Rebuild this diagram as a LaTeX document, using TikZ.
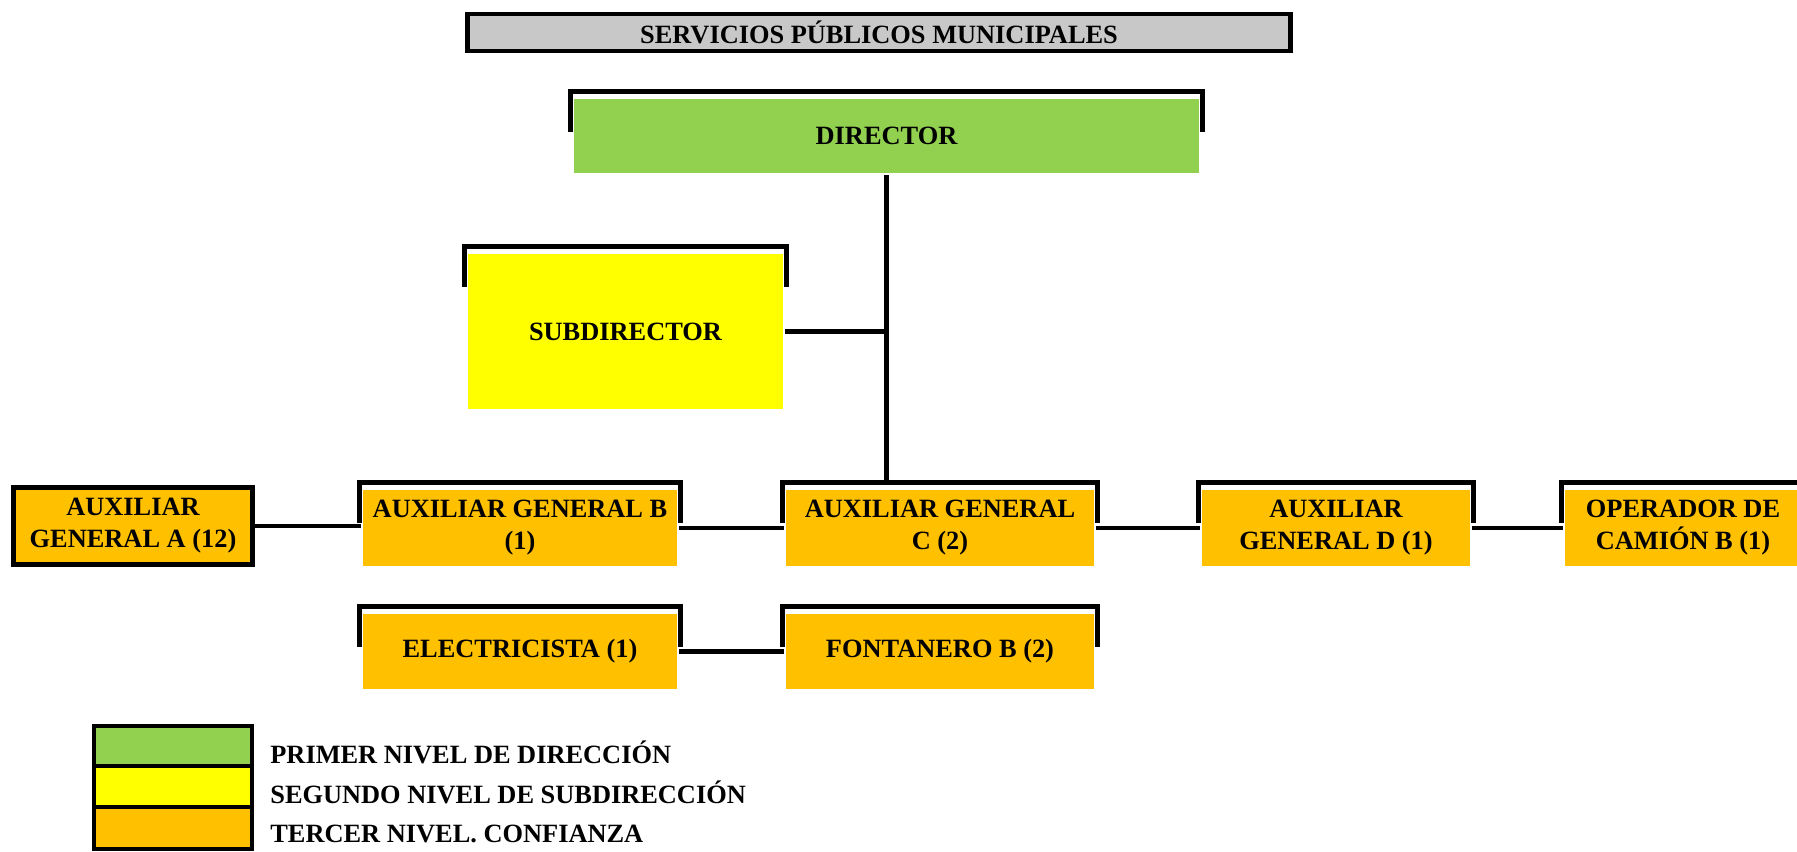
\documentclass[tikz,border=0pt]{standalone}
\usepackage{fontspec}
\setmainfont{Liberation Serif}
\definecolor{gris}{HTML}{C8C8C8}
\definecolor{verde}{HTML}{92D050}
\definecolor{amarillo}{HTML}{FFFF00}
\definecolor{naranja}{HTML}{FFC000}
\begin{document}
\begin{tikzpicture}[x=0.01cm, y=-0.01cm, font=\fontsize{7.5}{9.1}\selectfont\bfseries, line width=1.3pt]
			\tikzset{b/.style={fill=naranja,inner sep=0pt,align=center,minimum width=3.14cm,minimum height=0.76cm},
				t/.style={b,draw=black}}
			\useasboundingbox(0,0)rectangle(1797,851);
			% titulo y jefes
			\path(879,32.6)node[t,fill=gris,minimum width=8.22cm,minimum height=0.37cm](tit){SERVICIOS PÚBLICOS MUNICIPALES};
			\path(886.5,136)node[b,fill=verde,minimum width=6.25cm,minimum height=0.74cm](dir){DIRECTOR};
			\path(625.5,331.5)node[b,fill=amarillo,minimum width=3.15cm,minimum height=1.55cm](sub){SUBDIRECTOR};
			% tercer nivel
			\path(133,526)node[t,minimum width=2.39cm,minimum height=0.77cm](auxa){AUXILIAR\\GENERAL A (12)};
			\path(520,528)node[b](auxb){AUXILIAR GENERAL B\\(1)};
			\path(940,528)node[b,minimum width=3.08cm](auxc){AUXILIAR GENERAL\\C (2)};
			\path(1336,528)node[b,minimum width=2.68cm](auxd){AUXILIAR\\GENERAL D (1)};
			\path(1683,528)node[b,minimum width=2.36cm](oper){OPERADOR DE\\CAMIÓN B (1)};
			\path(520,651.5)node[b,minimum height=0.75cm](elec){ELECTRICISTA (1)};
			\path(940,651.5)node[b,minimum width=3.08cm,minimum height=0.75cm](font){FONTANERO B (2)};
			% bordes cortados
			\foreach \n in {dir,sub,auxb,auxc,auxd,oper,elec,font}
			\draw([shift={(-1,35)}]\n.north west)|-([shift={(0,-5)}]\n.north)-|([shift={(1,35)}]\n.north east);
			% lineas
			\coordinate(tr)at(dir.south |- auxc.north);
			\draw(dir.south)--([yshift=0.05cm]tr);
			\draw(sub.east)--(sub.east -| dir.south);
			\foreach \x/\y in {
				auxa/auxb,auxb/auxc,
				auxc/auxd,auxd/oper,
				elec/font}
			\draw(\x.east)--(\x.east -| \y.west);
			% leyenda
			\path(173,746)node[t,fill=verde,minimum width=1.58cm,minimum height=0.40cm](ley1){};
			\path(173,786.5)node[t,fill=amarillo,minimum width=1.58cm,minimum height=0.41cm](ley2){};
			\path(173,828)node[t,minimum width=1.58cm,minimum height=0.42cm](ley3){};
			\path(ley1.east)++(2,6)node[anchor=west](txt1){PRIMER NIVEL DE DIRECCIÓN};
			\path(ley2.east)++(2,6)node[anchor=west](txt2){SEGUNDO NIVEL DE SUBDIRECCIÓN};
			\path(ley3.east)++(2,6)node[anchor=west](txt3){TERCER NIVEL. CONFIANZA};
		\end{tikzpicture}
\end{document}
